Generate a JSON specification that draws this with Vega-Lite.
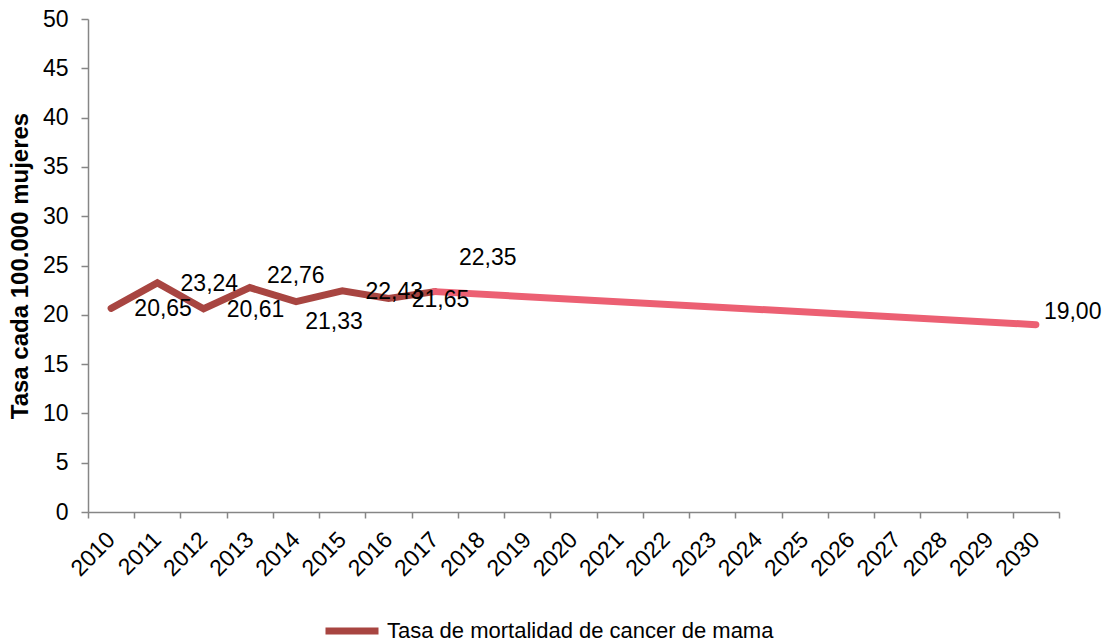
{
  "$schema": "https://vega.github.io/schema/vega-lite/v6.json",
  "width": 971,
  "height": 493,
  "autosize": {"type": "none"},
  "padding": {"left": 88, "top": 19, "right": 44, "bottom": 131},
  "config": {
    "view": {"stroke": null},
    "font": "Liberation Sans",
    "locale": {"number": {"decimal": ",", "thousands": ".", "grouping": [3], "currency": ["", " €"]}}
  },
  "data": {
    "values": [
      {"year": "2010", "value": 20.65, "series": "Tasa de mortalidad de cancer de mama"},
      {"year": "2011", "value": 23.24, "series": "Tasa de mortalidad de cancer de mama"},
      {"year": "2012", "value": 20.61, "series": "Tasa de mortalidad de cancer de mama"},
      {"year": "2013", "value": 22.76, "series": "Tasa de mortalidad de cancer de mama"},
      {"year": "2014", "value": 21.33, "series": "Tasa de mortalidad de cancer de mama"},
      {"year": "2015", "value": 22.43, "series": "Tasa de mortalidad de cancer de mama"},
      {"year": "2016", "value": 21.65, "series": "Tasa de mortalidad de cancer de mama"},
      {"year": "2017", "value": 22.35, "series": "Tasa de mortalidad de cancer de mama"},
      {"year": "2017", "value": 22.35, "series": "Proyección"},
      {"year": "2030", "value": 19.0, "series": "Proyección"}
    ]
  },
  "encoding": {
    "x": {
      "field": "year",
      "type": "ordinal",
      "scale": {
        "type": "band",
        "domain": ["2010","2011","2012","2013","2014","2015","2016","2017","2018","2019","2020","2021","2022","2023","2024","2025","2026","2027","2028","2029","2030"],
        "paddingInner": 0,
        "paddingOuter": 0
      },
      "axis": {
        "title": null,
        "labelAngle": -45,
        "labelFontSize": 23,
        "labelColor": "#000000",
        "labelOffset": -8,
        "labelPadding": 10,
        "tickBand": "extent",
        "tickSize": 6,
        "tickColor": "#868686",
        "domainColor": "#868686",
        "domainWidth": 1.5,
        "tickWidth": 1.5,
        "grid": false
      }
    },
    "y": {
      "field": "value",
      "type": "quantitative",
      "scale": {"domain": [0, 50], "nice": false},
      "axis": {
        "title": "Tasa cada 100.000 mujeres",
        "titleFontSize": 24,
        "titleFontWeight": "bold",
        "titleColor": "#000000",
        "titlePadding": 10,
        "values": [0, 5, 10, 15, 20, 25, 30, 35, 40, 45, 50],
        "labelFontSize": 23,
        "labelColor": "#000000",
        "labelPadding": 13,
        "tickSize": 7,
        "tickColor": "#868686",
        "domainColor": "#868686",
        "domainWidth": 1.5,
        "tickWidth": 1.5,
        "grid": false
      }
    }
  },
  "layer": [
    {
      "mark": {"type": "line", "strokeWidth": 7, "strokeCap": "round", "strokeJoin": "miter"},
      "encoding": {
        "color": {
          "field": "series",
          "type": "nominal",
          "scale": {"domain": ["Tasa de mortalidad de cancer de mama", "Proyección"], "range": ["#A84541", "#EC6073"]},
          "legend": {
            "title": null,
            "values": ["Tasa de mortalidad de cancer de mama"],
            "orient": "none",
            "legendX": 234,
            "legendY": 582,
            "symbolType": "stroke",
            "symbolSize": 2809,
            "symbolStrokeWidth": 7,
            "labelFontSize": 22,
            "labelColor": "#000000",
            "labelLimit": 600,
            "labelOffset": 5
          }
        }
      }
    },
    {
      "transform": [{"filter": "datum.series == 'Tasa de mortalidad de cancer de mama' && indexof(['2010','2011','2012','2015','2016'], datum.year) >= 0"}],
      "mark": {"type": "text", "fontSize": 23, "color": "#000000", "align": "center", "baseline": "middle", "dx": 52, "dy": 1},
      "encoding": {"text": {"field": "value", "type": "quantitative", "format": ".2f"}}
    },
    {
      "transform": [{"filter": "datum.series == 'Tasa de mortalidad de cancer de mama' && datum.year == '2013'"}],
      "mark": {"type": "text", "fontSize": 23, "color": "#000000", "align": "center", "baseline": "middle", "dx": 46, "dy": -12},
      "encoding": {"text": {"field": "value", "type": "quantitative", "format": ".2f"}}
    },
    {
      "transform": [{"filter": "datum.series == 'Tasa de mortalidad de cancer de mama' && datum.year == '2014'"}],
      "mark": {"type": "text", "fontSize": 23, "color": "#000000", "align": "center", "baseline": "middle", "dx": 38, "dy": 20},
      "encoding": {"text": {"field": "value", "type": "quantitative", "format": ".2f"}}
    },
    {
      "transform": [{"filter": "datum.series == 'Tasa de mortalidad de cancer de mama' && datum.year == '2017'"}],
      "mark": {"type": "text", "fontSize": 23, "color": "#000000", "align": "center", "baseline": "middle", "dx": 53, "dy": -34},
      "encoding": {"text": {"field": "value", "type": "quantitative", "format": ".2f"}}
    },
    {
      "transform": [{"filter": "datum.series == 'Proyección' && datum.year == '2030'"}],
      "mark": {"type": "text", "fontSize": 23, "color": "#000000", "align": "left", "baseline": "middle", "dx": 8, "dy": -13},
      "encoding": {"text": {"field": "value", "type": "quantitative", "format": ".2f"}}
    }
  ]
}
